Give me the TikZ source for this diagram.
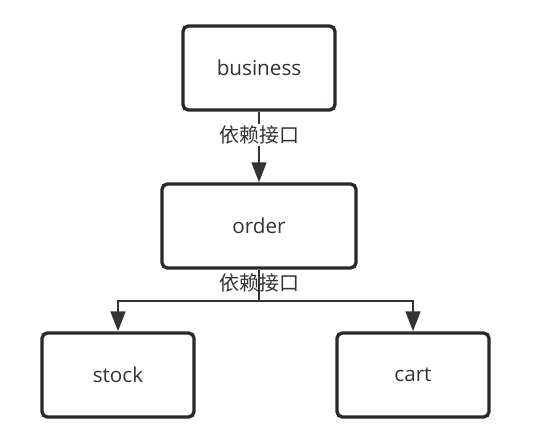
\documentclass[tikz,border=0pt]{standalone}
\usepackage{fontspec}
\setmainfont{Open Sans}
\newfontfamily\cjk{Noto Sans CJK SC}
\usepackage{tikz}
\usetikzlibrary{arrows.meta}
\definecolor{boxcol}{HTML}{262A2E}
\definecolor{linecol}{HTML}{333333}
\tikzset{box/.style={draw=boxcol,line width=2.5pt,rounded corners=4pt,fill=white,
    minimum width=114pt,minimum height=63pt,text=linecol,font=\fontsize{15.5}{17}\selectfont},
  dep/.style={draw=linecol,line width=2pt,-{Triangle[length=15pt,width=11pt]}},
  deplabel/.style={fill=white,inner sep=1pt,text=linecol,font=\cjk\fontsize{15}{17}\selectfont}}
\begin{document}
\begin{tikzpicture}[x=0.75pt,y=-0.75pt]
      \useasboundingbox (0,0) rectangle (550,442);
      \node[box] (business) at (259,68) {business};
      \node[box,minimum width=145.5pt] (order) at (259,226) {order};
      \node[box] (stock) at (118,375) {stock};
      \node[box] (cart) at (413,375) {cart};
      \coordinate (split) at (259,301);

\draw[dep] (business.south) -- (order.north);
\node[deplabel] (lbltop) at (259,135) {依赖接口};
\node[deplabel] (lblbot) at (259,283) {依赖接口};
\draw[dep] (order.south) -- (split) -| (stock.north);
\draw[dep] (split) -| (cart.north);
    \end{tikzpicture}
\end{document}
